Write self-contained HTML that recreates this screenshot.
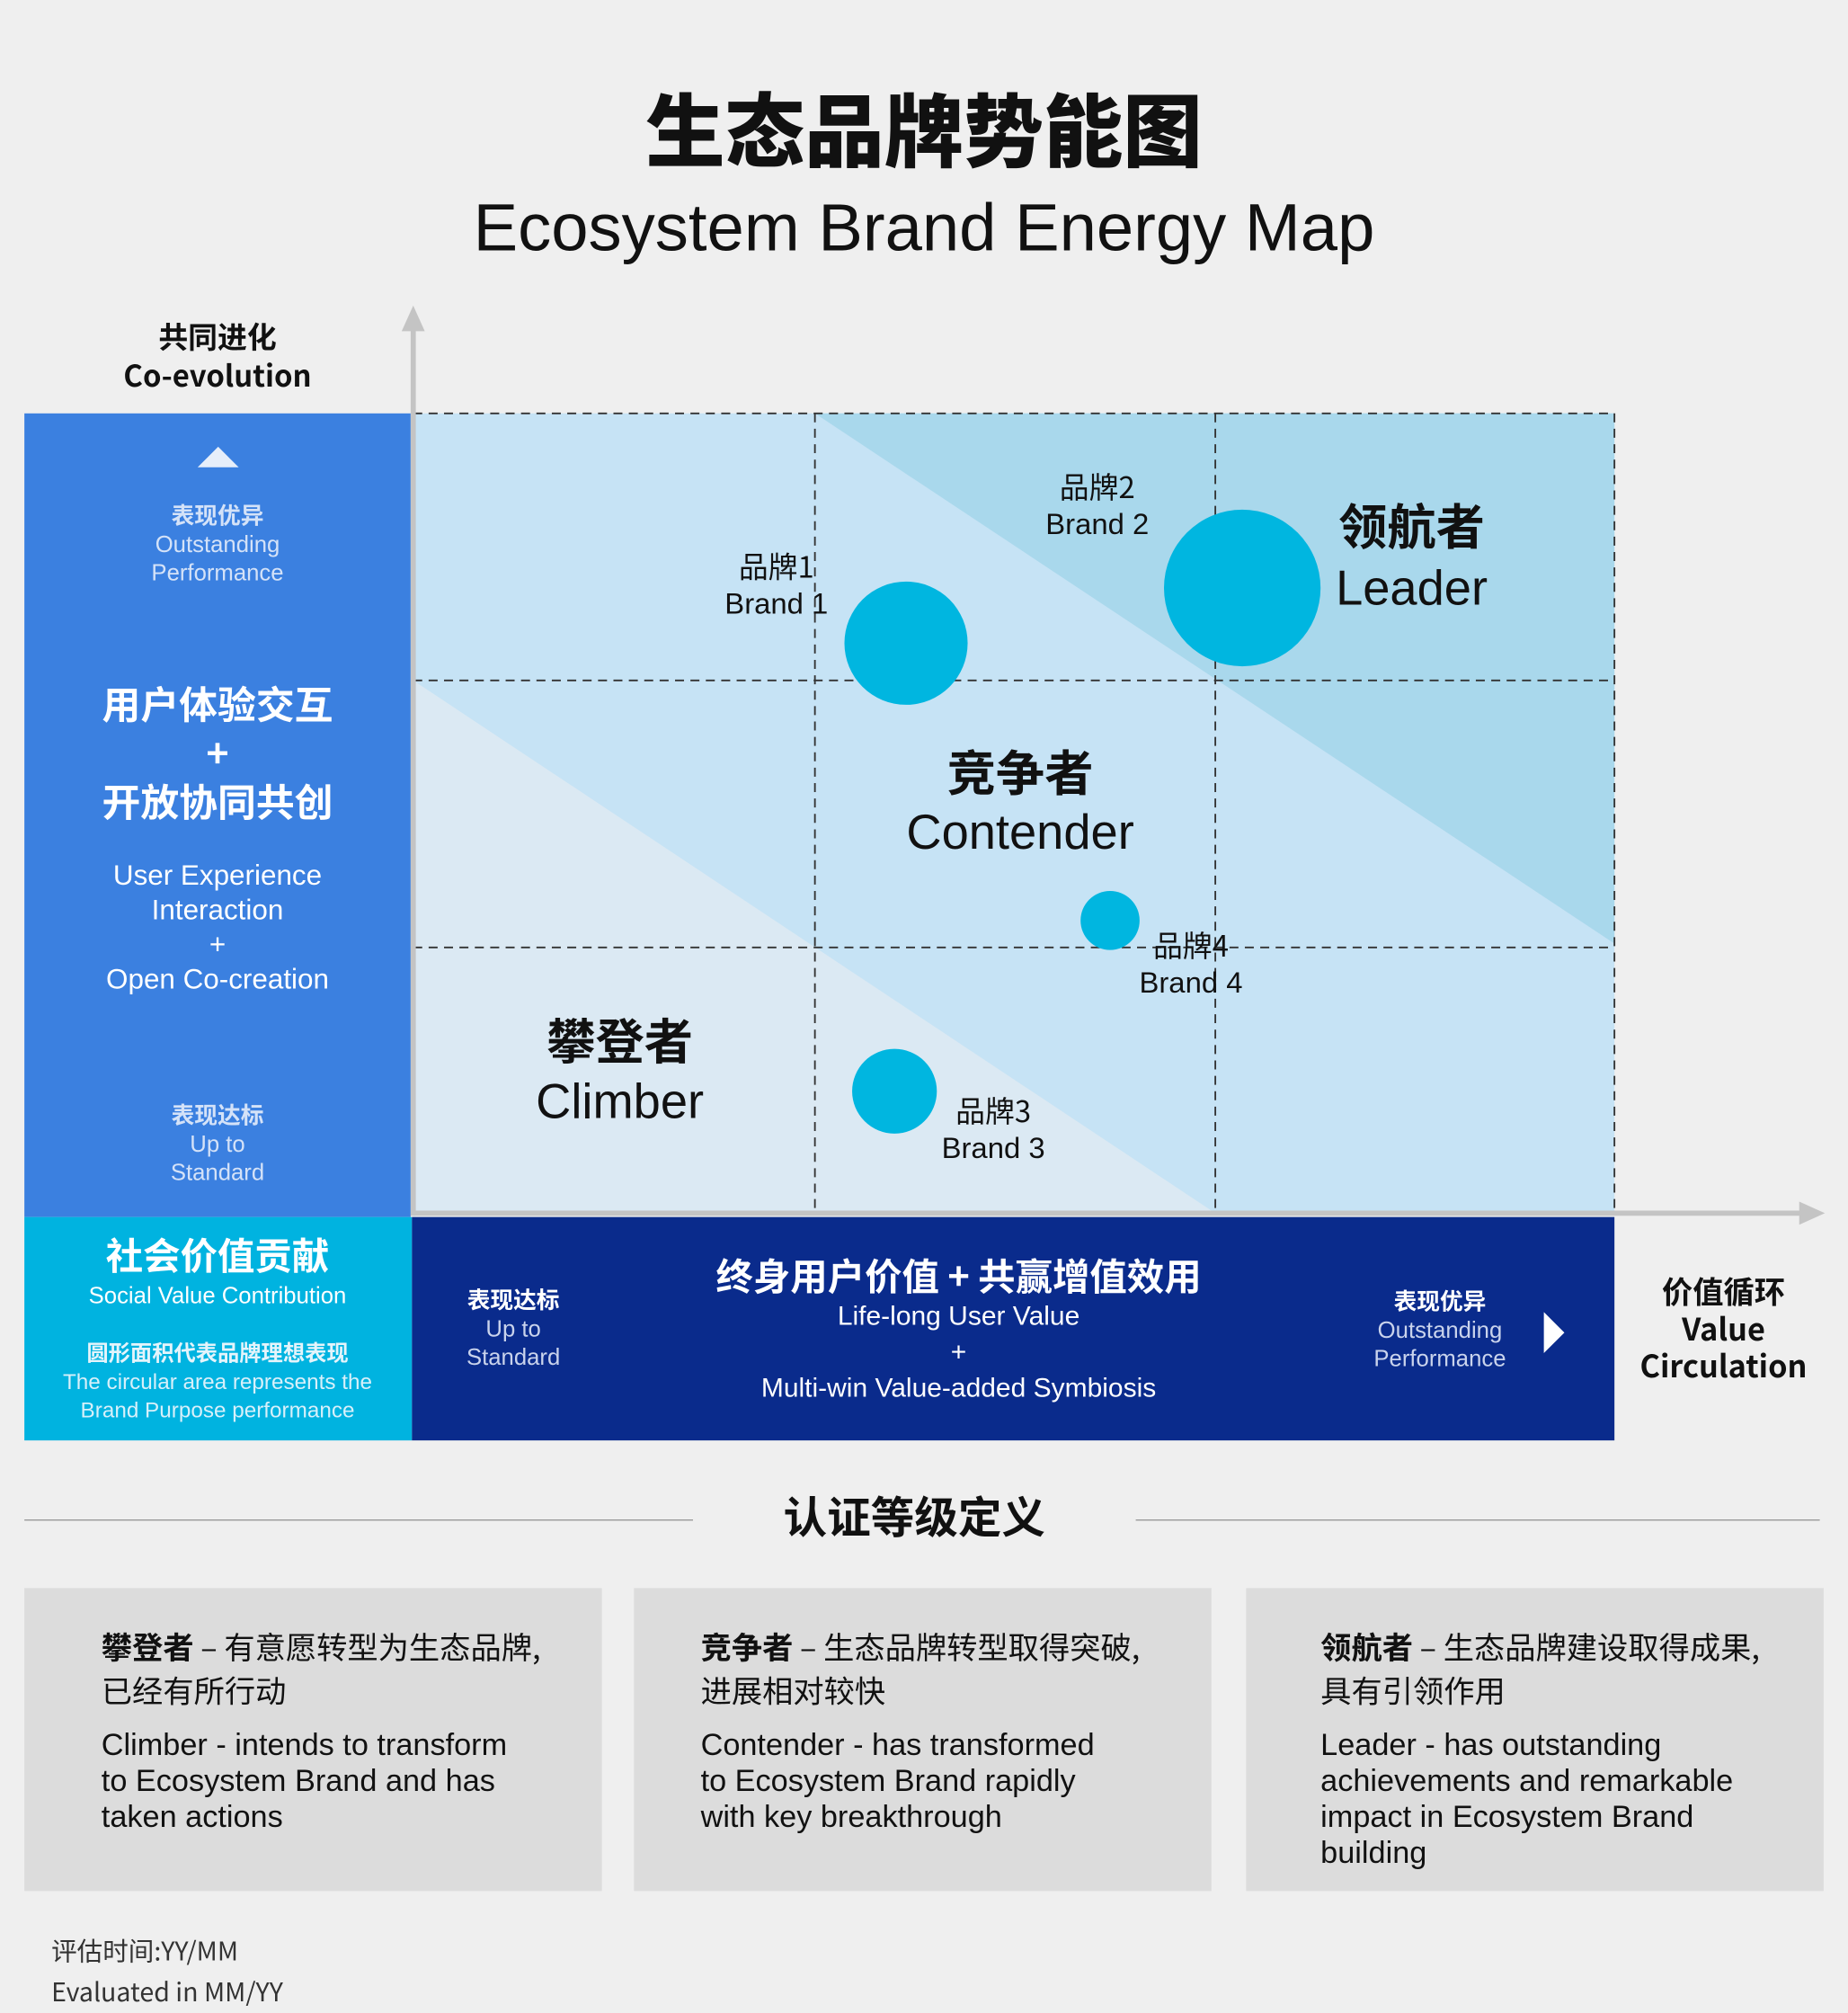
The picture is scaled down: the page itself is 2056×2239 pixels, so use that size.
<!DOCTYPE html>
<html><head><meta charset="utf-8"><style>
html,body{margin:0;padding:0;background:#efefef;overflow:hidden}
#w{width:1440px;height:1568px;position:relative;transform:scale(1.42778,1.42793);transform-origin:0 0;font-family:"Liberation Sans","Noto Sans CJK SC",sans-serif;color:#111}
.a{position:absolute}
.c{position:absolute;text-align:center;white-space:nowrap}
.cj{font-family:"Noto Sans CJK SC",sans-serif}
.wt{color:#fff}
.pale{color:#cfe0f7}
</style></head><body><div id="w">
<div class="c cj" style="left:0;width:1440px;top:58px;font-size:62px;font-weight:900;line-height:80px">生态品牌势能图</div>
<div class="c" style="left:0;width:1440px;top:146px;font-size:52px;line-height:64px;font-weight:300">Ecosystem Brand Energy Map</div>

<div class="c cj" style="left:19px;width:301px;top:246px;font-size:23px;font-weight:700;line-height:30px">共同进化<br>Co-evolution</div>

<svg class="a" style="left:0;top:0" width="1440" height="1568">
<rect x="322" y="322" width="936" height="623" fill="#c6e3f5"/>
<polygon points="322,530 322,945 947,945" fill="#dbe9f3"/>
<polygon points="635,322 1258,322 1258,735" fill="#a9d8ec"/>
<g stroke="#333" stroke-width="1.3" stroke-dasharray="7,5" fill="none">
<line x1="322" y1="322" x2="1258" y2="322"/>
<line x1="322" y1="530" x2="1258" y2="530"/>
<line x1="322" y1="738" x2="1258" y2="738"/>
<line x1="635" y1="322" x2="635" y2="945"/>
<line x1="947" y1="322" x2="947" y2="945"/>
<line x1="1258" y1="322" x2="1258" y2="945"/>
</g>
<rect x="19" y="322" width="301" height="626" fill="#3b80e0"/>
<rect x="19" y="948" width="302" height="174" fill="#00b3e0"/>
<rect x="321" y="948" width="937" height="174" fill="#0a2b8c"/>
<line x1="322" y1="255" x2="322" y2="947" stroke="#c4c4c4" stroke-width="4"/>
<polygon points="313,258 331,258 322,238" fill="#c4c4c4"/>
<line x1="322" y1="945" x2="1405" y2="945" stroke="#c4c4c4" stroke-width="4"/>
<polygon points="1402,936 1402,954 1422,945" fill="#c4c4c4"/>
<polygon points="154,364 186,364 170,348" fill="#e6eefa"/>
<polygon points="1203,1022 1203,1054 1219,1038" fill="#fff"/>
<g fill="#00b6e0">
<circle cx="706" cy="501" r="48"/>
<circle cx="968" cy="458" r="61"/>
<circle cx="865" cy="717" r="23"/>
<circle cx="697" cy="850" r="33"/>
</g>
<line x1="19" y1="1184" x2="540" y2="1184" stroke="#999" stroke-width="1"/>
<line x1="885" y1="1184" x2="1418" y2="1184" stroke="#999" stroke-width="1"/>
<rect x="19" y="1237" width="450" height="236" fill="#dcdcdc"/>
<rect x="494" y="1237" width="450" height="236" fill="#dcdcdc"/>
<rect x="971" y="1237" width="450" height="236" fill="#dcdcdc"/>
</svg>

<div class="c" style="left:19px;width:301px;top:390px;font-size:18px;line-height:22px;color:#d4e2f8"><b class="cj">表现优异</b><br>Outstanding<br>Performance</div>
<div class="c cj wt" style="left:19px;width:301px;top:528px;font-size:30px;font-weight:700;line-height:38px">用户体验交互<br>+<br>开放协同共创</div>
<div class="c wt" style="left:19px;width:301px;top:668px;font-size:22px;line-height:27px;font-weight:300">User Experience<br>Interaction<br>+<br>Open Co-creation</div>
<div class="c" style="left:19px;width:301px;top:857px;font-size:18px;line-height:22px;color:#d4e2f8"><b class="cj">表现达标</b><br>Up to<br>Standard</div>

<div class="c cj wt" style="left:19px;width:301px;top:958px;font-size:29px;font-weight:700;line-height:38px">社会价值贡献</div>
<div class="c wt" style="left:19px;width:301px;top:998px;font-size:18px;line-height:22px">Social Value Contribution</div>
<div class="c wt" style="left:19px;width:301px;top:1042px;font-size:17px;line-height:22px"><b class="cj" style="color:#e4f4fb">圆形面积代表品牌理想表现</b><br><span style="color:#d7f0fa">The circular area represents the<br>Brand Purpose performance</span></div>

<div class="c" style="left:330px;width:140px;top:1001px;font-size:18px;line-height:22px;color:#c9d3ec"><b class="cj" style="color:#fff">表现达标</b><br>Up to<br>Standard</div>
<div class="c cj wt" style="left:447px;width:600px;top:974px;font-size:29px;font-weight:700;line-height:38px">终身用户价值 + 共赢增值效用</div>
<div class="c wt" style="left:447px;width:600px;top:1012px;font-size:21px;line-height:28px">Life-long User Value<br>+<br>Multi-win Value-added Symbiosis</div>
<div class="c" style="left:1052px;width:140px;top:1002px;font-size:18px;line-height:22px;color:#c9d3ec"><b class="cj" style="color:#fff">表现优异</b><br>Outstanding<br>Performance</div>
<div class="c cj" style="left:1262px;width:162px;top:990px;font-size:24px;font-weight:700;line-height:29px">价值循环<br>Value<br>Circulation</div>

<div class="c cj" style="left:1000px;width:200px;top:384px;font-size:38px;font-weight:700;line-height:48px">领航者</div>
<div class="c" style="left:1000px;width:200px;top:436px;font-size:38px;line-height:46px">Leader</div>
<div class="c cj" style="left:645px;width:300px;top:576px;font-size:38px;font-weight:700;line-height:48px">竞争者</div>
<div class="c" style="left:645px;width:300px;top:626px;font-size:38px;line-height:46px">Contender</div>
<div class="c cj" style="left:383px;width:200px;top:785px;font-size:38px;font-weight:700;line-height:48px">攀登者</div>
<div class="c" style="left:383px;width:200px;top:836px;font-size:38px;line-height:46px">Climber</div>

<div class="c" style="left:545px;width:120px;top:426px;font-size:23px;line-height:28px"><span class="cj">品牌1</span><br>Brand 1</div>
<div class="c" style="left:795px;width:120px;top:364px;font-size:23px;line-height:28px"><span class="cj">品牌2</span><br>Brand 2</div>
<div class="c" style="left:868px;width:120px;top:721px;font-size:23px;line-height:28px"><span class="cj">品牌4</span><br>Brand 4</div>
<div class="c" style="left:714px;width:120px;top:850px;font-size:23px;line-height:28px"><span class="cj">品牌3</span><br>Brand 3</div>

<div class="c cj" style="left:540px;width:345px;top:1158px;font-size:34px;font-weight:700;line-height:44px">认证等级定义</div>

<div class="a" style="left:79px;top:1266px;font-size:24px;line-height:31px;width:380px"><span class="cj"><b>攀登者</b> – 有意愿转型为生态品牌,<br>已经有所行动</span><div style="margin-top:12px;line-height:28px;font-weight:300">Climber - intends to transform<br>to Ecosystem Brand and has<br>taken actions</div></div>
<div class="a" style="left:546px;top:1266px;font-size:24px;line-height:31px;width:390px"><span class="cj"><b>竞争者</b> – 生态品牌转型取得突破,<br>进展相对较快</span><div style="margin-top:12px;line-height:28px;font-weight:300">Contender - has transformed<br>to Ecosystem Brand rapidly<br>with key breakthrough</div></div>
<div class="a" style="left:1029px;top:1266px;font-size:24px;line-height:31px;width:390px"><span class="cj"><b>领航者</b> – 生态品牌建设取得成果,<br>具有引领作用</span><div style="margin-top:12px;line-height:28px;font-weight:300">Leader - has outstanding<br>achievements and remarkable<br>impact in Ecosystem Brand<br>building</div></div>

<div class="a cj" style="left:40px;top:1503px;font-size:20px;line-height:32px;color:#333">评估时间:YY/MM<br>Evaluated in MM/YY</div>
</div></body></html>
